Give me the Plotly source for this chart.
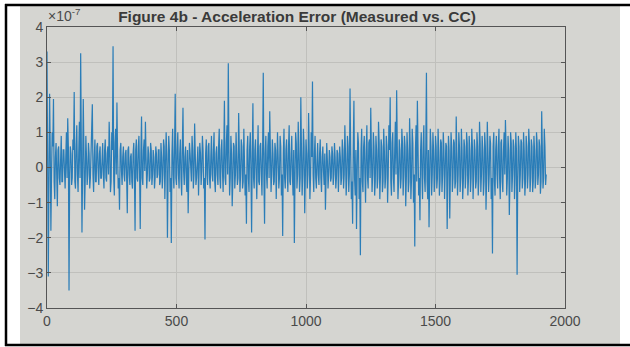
import plotly.graph_objects as go

# Acceleration error samples (units of 1e-7), one value every 5 samples
SAMPLE_STEP = 5
SCALE_EXP = -7

seg_a = [3.3, -3.1, 2.1, -1.8, 1.0, 1.95, -0.9, 0.7, -1.1, 0.6,
         -0.5, 0.9, -0.4, 0.5, -0.6, 1.0, 1.4, -3.5, 0.6, -0.5,
         0.8, 2.15, -0.6, 1.2, -0.7, 1.3, 3.25, -1.85, 1.95, -1.2,
         0.9, -0.5, 0.7, -0.6, 0.5, 1.8, -0.7, 0.8, -0.4, 0.7,
         -0.5, 0.6, -0.3, 0.7, -0.6, 0.8, -0.4, 0.6, 1.3, -0.7,
         1.0, 3.45, -0.8, 1.1, 1.85, -0.6, -1.2, 0.7, -0.5, 0.6,
         -0.4, 0.5, -1.3, 0.6, -0.5, 0.4, -0.6, 0.7, -1.8, 0.8,
         -0.4, 0.9, -1.75, 1.45, -0.5, 0.8, 1.3, -0.6, 0.6, -0.4,
         0.7, -0.5, 0.5, -0.6, 0.6, -0.3, 0.5, -0.5, 0.7, -0.6,
         0.8, -0.9, 1.0, -2.0, 0.9, -0.7, -2.15, 1.1, -0.6, 2.1]

seg_b = [-0.5, 1.0, -0.6, 0.8, -0.8, 1.7, -0.5, 0.6, -0.7, -1.3,
         0.7, -0.4, 0.9, -0.6, 1.25, -0.5, 0.6, -0.8, 0.7, -0.5,
         0.9, -0.6, -2.05, 0.8, -0.5, 0.7, -0.6, 0.9, -0.4, 1.0,
         -0.7, 0.6, -0.5, 1.1, -0.6, 0.8, -0.7, 1.9, -0.5, 1.2,
         2.97, -0.8, 0.9, -1.1, 0.7, -0.6, 1.0, -0.5, 1.55, -0.7,
         0.8, -0.6, 1.1, -0.8, -1.6, 0.9, -0.7, 1.0, -1.85, 1.83,
         -0.6, 0.8, -0.9, 1.2, -0.5, 0.7, -0.8, 2.7, -1.6, 0.9,
         -0.6, 1.0, 1.6, -0.7, 0.8, -0.5, 0.7, -0.9, 1.0, -0.6,
         0.9, -0.8, -1.95, 1.1, -0.6, 0.8, -0.7, 1.2, -0.5, 0.9,
         -0.8, -2.15, 1.0, -0.6, 1.3, -0.7, 2.0, -0.8, 1.1, -1.3]

seg_c = [0.8, -0.6, 1.55, -0.9, 1.0, 2.45, -0.7, 0.9, -0.6, 0.7,
         -0.5, 0.8, -0.7, 0.6, -0.5, -1.2, 0.7, -0.6, 0.5, -0.4,
         0.6, -0.5, 0.7, -0.6, 0.5, -0.7, 0.6, -0.5, 0.8, -0.6,
         1.2, -0.8, 0.9, -0.7, 2.25, -0.9, -1.6, 1.9, -0.8, -1.75,
         1.0, -0.9, -2.5, 1.1, -0.7, 0.9, -1.0, 1.2, -0.6, 0.8,
         1.7, -0.7, 1.0, -0.8, 0.9, -0.6, 1.3, -0.9, 0.8, -0.7,
         1.1, -0.6, 0.9, -1.0, 1.2, 2.0, -0.8, 1.0, -0.7, 1.3,
         2.2, -0.9, 0.8, -0.6, 1.1, -0.8, 0.9, -1.1, 1.0, -0.7,
         1.4, -0.9, 1.1, -1.0, -2.25, 1.2, 1.9, -0.8, -1.5, 1.0,
         -0.9, 1.2, -0.7, 2.7, -0.9, -1.7, 1.1, -0.8, 1.0, -0.7]

seg_d = [0.9, -0.6, 1.1, -0.8, 0.8, -0.7, 1.0, -0.9, 0.7, -1.75,
         0.9, -1.45, 1.0, -0.7, 0.8, -0.6, 1.45, -0.8, 1.0, -0.7,
         1.1, -0.9, 0.8, -0.6, 1.0, -0.8, 0.9, -0.7, 1.1, -0.9,
         0.8, -0.6, 1.0, -0.8, 1.3, -0.7, 0.9, -0.8, 1.0, -1.2,
         1.3, -0.7, 0.9, -0.9, -2.45, 1.0, -0.8, 0.9, -0.6, 1.1,
         -0.9, 0.8, -0.7, 1.0, 1.35, -0.8, 0.9, -1.35, 1.0, -0.7,
         0.8, -0.9, 1.0, -3.05, 0.9, -0.7, 0.8, -0.6, 1.0, -0.8,
         0.9, -0.6, 1.1, -0.7, 0.8, -0.7, 0.9, -0.6, 1.0, -0.5,
         0.8, -0.75, 1.6, -0.6, 1.1, -0.5]

# second pass of samples, offset by half a step, filling the dense core of the band
core_a = [0.4, -0.3, 0.5, -0.2, 0.6, -0.4, 0.3, -0.2, 0.5, -0.3,
          0.2, -0.4, 0.5, -0.1, 0.3, -0.3, 0.6, -0.2, 0.4, -0.3,
          0.5, -0.4, 0.6, -0.2, 0.4, -0.3, 0.7, -0.1, 0.5, -0.4,
          0.3, -0.2, 0.4, -0.3, 0.5, -0.2, 0.3, -0.4, 0.6, -0.1,
          0.4, -0.3, 0.2, -0.2, 0.5, -0.3, 0.4, -0.2, 0.6, -0.4,
          0.5, -0.3, 0.7, -0.2, 0.4, -0.3, 0.5, -0.1, 0.3, -0.2,
          0.4, -0.3, 0.5, -0.2, 0.3, -0.4, 0.4, -0.2, 0.5, -0.3,
          0.6, -0.2, 0.4, -0.3, 0.5, -0.1, 0.3, -0.2, 0.4, -0.3,
          0.5, -0.2, 0.3, -0.3, 0.4, -0.2, 0.5, -0.4, 0.3, -0.2,
          0.6, -0.3, 0.4, -0.2, 0.5, -0.3, 0.4, -0.2, 0.6, -0.3]

core_b = [0.5, -0.2, 0.4, -0.3, 0.6, -0.1, 0.3, -0.3, 0.5, -0.2,
          0.4, -0.4, 0.5, -0.2, 0.3, -0.3, 0.6, -0.2, 0.4, -0.1,
          0.5, -0.3, 0.4, -0.2, 0.6, -0.3, 0.3, -0.2, 0.5, -0.4,
          0.4, -0.2, 0.6, -0.3, 0.5, -0.1, 0.4, -0.3, 0.7, -0.2,
          0.5, -0.3, 0.4, -0.4, 0.6, -0.2, 0.3, -0.3, 0.5, -0.2,
          0.6, -0.4, 0.4, -0.2, 0.5, -0.3, 0.6, -0.1, 0.4, -0.3,
          0.5, -0.2, 0.3, -0.4, 0.6, -0.2, 0.5, -0.3, 0.4, -0.2,
          0.6, -0.3, 0.5, -0.2, 0.4, -0.4, 0.5, -0.1, 0.3, -0.3,
          0.6, -0.2, 0.4, -0.3, 0.5, -0.2, 0.6, -0.4, 0.4, -0.2,
          0.5, -0.3, 0.7, -0.2, 0.4, -0.3, 0.5, -0.2, 0.6, -0.3]

core_c = [0.4, -0.2, 0.5, -0.3, 0.3, -0.2, 0.4, -0.3, 0.2, -0.2,
          0.4, -0.3, 0.3, -0.1, 0.4, -0.3, 0.2, -0.2, 0.3, -0.3,
          0.4, -0.2, 0.3, -0.3, 0.4, -0.2, 0.3, -0.3, 0.5, -0.2,
          0.4, -0.3, 0.6, -0.2, 0.5, -0.4, 0.6, -0.3, 0.5, -0.2,
          0.7, -0.3, 0.5, -0.4, 0.6, -0.2, 0.5, -0.3, 0.7, -0.3,
          0.5, -0.2, 0.6, -0.4, 0.5, -0.3, 0.7, -0.2, 0.6, -0.4,
          0.5, -0.3, 0.6, -0.2, 0.5, -0.4, 0.7, -0.3, 0.5, -0.2,
          0.6, -0.4, 0.5, -0.3, 0.7, -0.2, 0.6, -0.3, 0.5, -0.4,
          0.6, -0.3, 0.7, -0.2, 0.5, -0.4, 0.6, -0.3, 0.5, -0.2,
          0.7, -0.3, 0.6, -0.4, 0.5, -0.3, 0.6, -0.2, 0.5, -0.3]

core_d = [0.6, -0.3, 0.5, -0.4, 0.7, -0.2, 0.5, -0.3, 0.6, -0.4,
          0.5, -0.2, 0.6, -0.3, 0.7, -0.4, 0.5, -0.2, 0.6, -0.3,
          0.5, -0.4, 0.6, -0.2, 0.7, -0.3, 0.5, -0.3, 0.6, -0.2,
          0.5, -0.4, 0.6, -0.3, 0.7, -0.2, 0.5, -0.4, 0.6, -0.3,
          0.5, -0.2, 0.7, -0.3, 0.6, -0.4, 0.5, -0.2, 0.6, -0.3,
          0.7, -0.4, 0.5, -0.2, 0.6, -0.3, 0.5, -0.4, 0.7, -0.2,
          0.6, -0.3, 0.5, -0.4, 0.6, -0.2, 0.7, -0.3, 0.5, -0.4,
          0.6, -0.2, 0.7, -0.3, 0.6, -0.4, 0.5, -0.3, 0.7, -0.2,
          0.6, -0.4, 0.5, -0.3, 0.6, -0.2]

x_ticks = [0, 500, 1000, 1500, 2000]
y_ticks = [-4, -3, -2, -1, 0, 1, 2, 3, 4]
title_text = "Figure 4b - Acceleration Error (Measured vs. CC)"

main_vals = seg_a + seg_b + seg_c + seg_d
core_vals = core_a + core_b + core_c + core_d
y_vals, x_vals = [], []
for i, v in enumerate(main_vals):
    x_vals.append(i * SAMPLE_STEP)
    y_vals.append(v)
    if i < len(core_vals):
        x_vals.append(i * SAMPLE_STEP + SAMPLE_STEP / 2)
        y_vals.append(core_vals[i])

W, H = 630, 347
ML, MR, MT, MB = 47, 65, 27, 39
PW, PH = W - ML - MR, H - MT - MB


def px_x(p):
    return (p - ML) / PW


def px_y(p):
    return 1 - (p - MT) / PH


fig = go.Figure()
fig.add_trace(go.Scatter(x=x_vals, y=y_vals, mode="lines",
                         line=dict(color="#2a7db8", width=1.2),
                         hoverinfo="skip", showlegend=False))

shapes = [
    dict(type="rect", xref="paper", yref="paper", layer="below",
         x0=px_x(20), x1=px_x(620), y0=px_y(344), y1=px_y(6),
         fillcolor="#d5d5d1", line=dict(width=0)),
    dict(type="line", xref="paper", yref="paper",
         x0=px_x(5), x1=px_x(630), y0=px_y(5), y1=px_y(5),
         line=dict(color="black", width=2.5)),
    dict(type="line", xref="paper", yref="paper",
         x0=px_x(5), x1=px_x(630), y0=px_y(345), y1=px_y(345),
         line=dict(color="black", width=2.5)),
    dict(type="line", xref="paper", yref="paper",
         x0=px_x(6), x1=px_x(6), y0=px_y(4), y1=px_y(346),
         line=dict(color="black", width=2.5)),
]

fig.update_layout(
    width=W, height=H,
    margin=dict(l=ML, r=MR, t=MT, b=MB),
    paper_bgcolor="white",
    plot_bgcolor="rgba(0,0,0,0)",
    font=dict(family="Liberation Sans, Arial, sans-serif", color="#4a4a4a", size=14),
    shapes=shapes,
    title=dict(text="<b>" + title_text + "</b>", x=px_x(297), xref="paper",
               xanchor="center", y=1 - 17 / H, yanchor="middle",
               font=dict(size=15.5, color="#3a3a3a")),
    annotations=[dict(text="\u00d710<sup>-7</sup>", xref="paper", yref="paper",
                      x=px_x(46), y=px_y(26), xanchor="left", yanchor="bottom",
                      showarrow=False, font=dict(size=14, color="#4a4a4a"))],
)
fig.update_xaxes(range=[0, 2000], tickvals=x_ticks, ticks="inside", ticklen=4,
                 tickcolor="#555", showgrid=True, gridcolor="#c0c0bc", gridwidth=1,
                 showline=True, linecolor="#555", linewidth=1, mirror="ticks",
                 zeroline=False)
fig.update_yaxes(range=[-4, 4], tickvals=y_ticks, ticks="inside", ticklen=4,
                 tickcolor="#555", showgrid=True, gridcolor="#c0c0bc", gridwidth=1,
                 showline=True, linecolor="#555", linewidth=1, mirror="ticks",
                 zeroline=False)

fig.write_html("out.html")
